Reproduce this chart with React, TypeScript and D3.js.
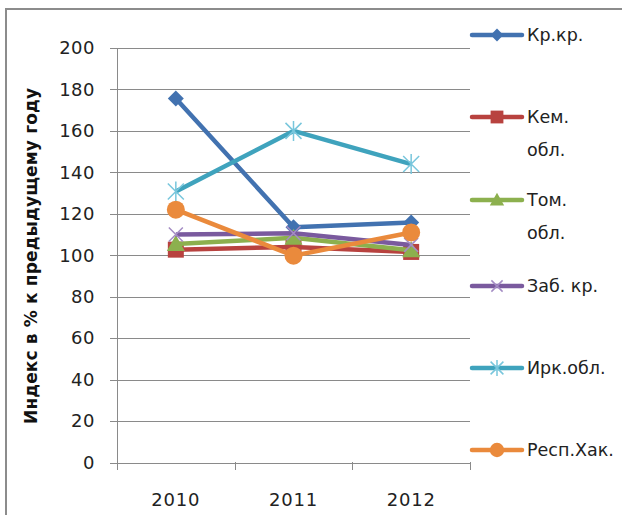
import * as d3 from "d3";
import React from "react";

const years = ["2010", "2011", "2012"];
const seriesNames = ["Кр.кр.", "Кем. обл.", "Том. обл.", "Заб. кр.", "Ирк.обл.", "Респ.Хак."];
const krKr = [175.6, 113.5, 115.8];
const kemObl = [102.7, 104, 101.6];
const tomObl = [105.4, 108.4, 102.4];
const zabKr = [110, 110.6, 105];
const irkObl = [130.8, 160, 144];
const respHak = [122, 99.8, 111];
const yTicks = [0, 20, 40, 60, 80, 100, 120, 140, 160, 180, 200];

const colors = ["#4272b0", "#b8423f", "#8cb04e", "#7a5a9e", "#3fa3bd", "#ea8a3c"];
const markers = ["diamond", "square", "triangle", "x", "star", "circle"];

function Marker({ kind, x, y, color, s = 1 }: { kind: string; x: number; y: number; color: string; s?: number }) {
  if (kind === "diamond") {
    const r = 8 * s;
    return <path d={`M${x},${y - r}L${x + r},${y}L${x},${y + r}L${x - r},${y}Z`} fill={color} />;
  }
  if (kind === "square") {
    const r = 8 * s;
    return <rect x={x - r} y={y - r} width={2 * r} height={2 * r} fill={color} />;
  }
  if (kind === "triangle") {
    const r = 9 * s;
    return <path d={`M${x},${y - r}L${x + r},${y + r * 0.78}L${x - r},${y + r * 0.78}Z`} fill={color} />;
  }
  if (kind === "x") {
    const r = 7 * s;
    return (
      <path d={`M${x - r},${y - r}L${x + r},${y + r}M${x - r},${y + r}L${x + r},${y - r}`}
        stroke="#a48cc4" strokeWidth={1.5} fill="none" />
    );
  }
  if (kind === "star") {
    const r = 8 * s;
    return (
      <path d={`M${x - r},${y - r}L${x + r},${y + r}M${x - r},${y + r}L${x + r},${y - r}M${x},${y - r * 1.25}L${x},${y + r * 1.25}`}
        stroke="#78c6dc" strokeWidth={1.5} fill="none" />
    );
  }
  return <circle cx={x} cy={y} r={9 * s} fill={color} />;
}

export default function App() {
  const W = 622;
  const H = 515;
  const data = [krKr, kemObl, tomObl, zabKr, irkObl, respHak];

  const x = d3.scaleBand().domain(years).range([117, 470]);
  const y = d3.scaleLinear().domain([0, 200]).range([462.5, 48]);

  const line = d3
    .line<number>()
    .x((d, i) => (x(years[i]) as number) + x.bandwidth() / 2)
    .y(d => y(d));

  const font = "'DejaVu Sans', 'Open Sans', sans-serif";

  // y of first text line of each legend row
  const legendY = [35, 117, 200, 286, 368, 450];

  return (
    <svg width={W} height={H} style={{ position: "absolute", left: 0, top: 0 }}>
      <rect width={W} height={H} fill="#fff" />
      {/* outer frame */}
      <path d={`M6,${H}L6,9L${W},9`} stroke="#8c8c8c" strokeWidth={2} fill="none" />

      {/* grid */}
      {yTicks.map((t, i) => (
        <line key={i} x1={110} x2={470} y1={Math.round(y(t)) + 0.5} y2={Math.round(y(t)) + 0.5}
          stroke="#8a8a8a" strokeWidth={1} />
      ))}
      {/* axes */}
      <line x1={117.5} x2={117.5} y1={48} y2={470} stroke="#8a8a8a" />
      {years.map((yr, i) => {
        const tx = Math.round((x(yr) as number) + x.bandwidth()) + 0.5;
        return <line key={i} x1={tx} x2={tx} y1={462} y2={470} stroke="#8a8a8a" />;
      })}

      {/* y tick labels */}
      {yTicks.map((t, i) => (
        <text key={i} x={95} y={y(t)} dy="0.35em" textAnchor="end" fontFamily={font} fontSize={18}
          letterSpacing={0.5} fill="#222">
          {t}
        </text>
      ))}
      {/* x labels */}
      {years.map((yr, i) => (
        <text key={i} x={(x(yr) as number) + x.bandwidth() / 2} y={500} dy="0.35em" textAnchor="middle"
          fontFamily={font} fontSize={18} letterSpacing={0.8} fill="#222">
          {yr}
        </text>
      ))}

      {/* y title */}
      <text transform={`translate(31,256) rotate(-90)`} textAnchor="middle" dy="0.35em"
        fontFamily={font} fontSize={17} fontWeight="bold" fill="#111"
        textLength={336} lengthAdjust="spacing">
        Индекс в % к предыдущему году
      </text>

      {/* series */}
      {data.map((vals, s) => (
        <g key={s}>
          <path d={line(vals) as string} stroke={colors[s]} strokeWidth={4.5} fill="none" strokeLinejoin="round" />
          {vals.map((v, i) => (
            <Marker key={i} kind={markers[s]} x={(x(years[i]) as number) + x.bandwidth() / 2} y={y(v)} color={colors[s]} />
          ))}
        </g>
      ))}

      {/* legend */}
      {seriesNames.map((name, s) => {
        const ly = legendY[s];
        const lines = s === 1 || s === 2 ? name.split(" ") : [name];
        return (
          <g key={s}>
            <line x1={472} x2={522} y1={ly} y2={ly} stroke={colors[s]} strokeWidth={4.5} strokeLinecap="round" />
            <Marker kind={markers[s]} x={497} y={ly} color={colors[s]} s={0.8} />
            {lines.map((l, k) => (
              <text key={k} x={527} y={ly + k * 33} dy="0.35em" fontFamily={font} fontSize={17.5} fill="#222">
                {l}
              </text>
            ))}
          </g>
        );
      })}
    </svg>
  );
}
